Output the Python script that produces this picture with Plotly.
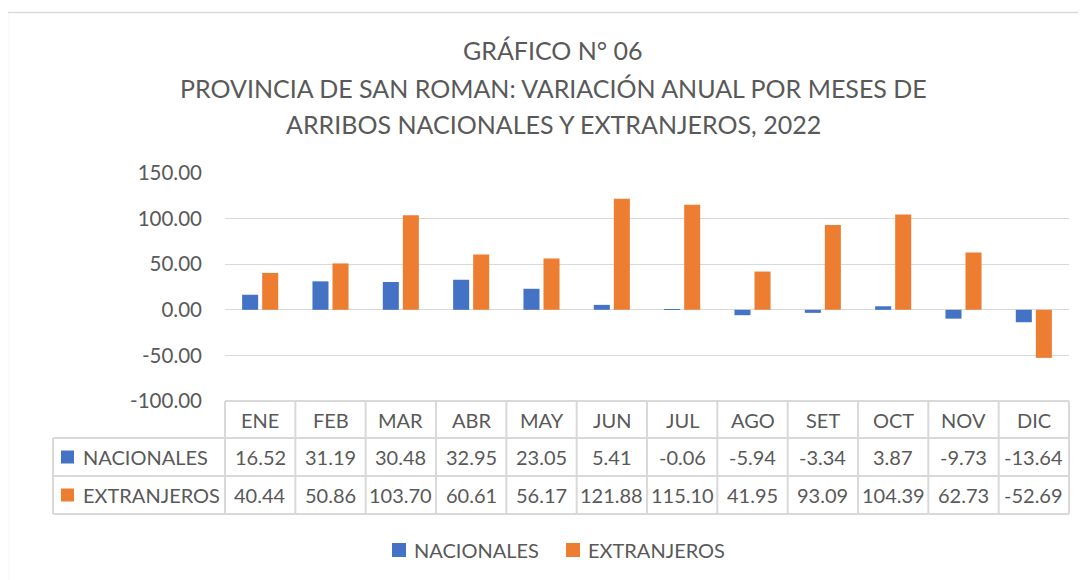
import plotly.graph_objects as go

meses = ["ENE", "FEB", "MAR", "ABR", "MAY", "JUN", "JUL", "AGO", "SET", "OCT", "NOV", "DIC"]
nacionales = [16.52, 31.19, 30.48, 32.95, 23.05, 5.41, -0.06, -5.94, -3.34, 3.87, -9.73, -13.64]
extranjeros = [40.44, 50.86, 103.70, 60.61, 56.17, 121.88, 115.10, 41.95, 93.09, 104.39, 62.73, -52.69]
series_names = ["NACIONALES", "EXTRANJEROS"]
series_colors = ["#4472C4", "#ED7D31"]
title_lines = [
    "GRÁFICO N° 06",
    "PROVINCIA DE SAN ROMAN: VARIACIÓN ANUAL POR MESES DE",
    "ARRIBOS NACIONALES Y EXTRANJEROS, 2022",
]
tick_vals = [-100, -50, 0, 50, 100, 150]

OFF = 8  # page body margin
W, H = 1086 - OFF, 580 - OFF
# plot area in page pixels
PL, PR, PT, PB = 225, 1069, 173, 401
FONT = "Lato"
TXT = "#595959"
GRID = "#D9D9D9"


def px(x):
    return (x - PL) / (PR - PL)


def py(y):
    return (PB - y) / (PB - PT)


fig = go.Figure()
for name, vals, col in zip(series_names, [nacionales, extranjeros], series_colors):
    fig.add_trace(go.Bar(x=meses, y=vals, name=name, marker=dict(color=col, line=dict(width=0)),
                         showlegend=False))

shapes = []
ann = []

# title
for t, ty in zip(title_lines, [50, 88, 124]):
    ann.append(dict(text=t, x=px(553), y=py(ty), xref="paper", yref="paper",
                    xanchor="center", yanchor="middle", showarrow=False,
                    font=dict(family=FONT, size=25, color=TXT)))

# chart border (extends beyond visible page)
shapes.append(dict(type="rect", xref="paper", yref="paper", x0=px(7.5), x1=px(1200), y0=py(12.5), y1=py(700),
                   line=dict(color=GRID, width=1.3), layer="below"))

# table geometry
n = len(meses)
cw = (PR - PL) / n
row_y = [401, 438, 476, 514]
LEFT = 53
tl = dict(color=GRID, width=2)
shapes.append(dict(type="line", xref="paper", yref="paper", x0=px(PL), x1=px(PR), y0=py(row_y[0]), y1=py(row_y[0]), line=tl))
for ry in row_y[1:]:
    shapes.append(dict(type="line", xref="paper", yref="paper", x0=px(LEFT), x1=px(PR), y0=py(ry), y1=py(ry), line=tl))
shapes.append(dict(type="line", xref="paper", yref="paper", x0=px(LEFT), x1=px(LEFT), y0=py(row_y[1]), y1=py(row_y[3]), line=tl))
for i in range(n + 1):
    xx = PL + i * cw
    shapes.append(dict(type="line", xref="paper", yref="paper", x0=px(xx), x1=px(xx), y0=py(row_y[0]), y1=py(row_y[3]), line=tl))

tfont = dict(family=FONT, size=20, color=TXT)
for i, m in enumerate(meses):
    cx = PL + (i + 0.5) * cw
    ann.append(dict(text=m, x=px(cx), y=py((row_y[0] + row_y[1]) / 2), xref="paper", yref="paper",
                    xanchor="center", yanchor="middle", showarrow=False, font=tfont))
    for r, vals in enumerate([nacionales, extranjeros]):
        ann.append(dict(text=f"{vals[i]:.2f}", x=px(cx), y=py((row_y[r + 1] + row_y[r + 2]) / 2),
                        xref="paper", yref="paper", xanchor="center", yanchor="middle", showarrow=False, font=tfont))

for r, (name, col) in enumerate(zip(series_names, series_colors)):
    cy = (row_y[r + 1] + row_y[r + 2]) / 2
    shapes.append(dict(type="rect", xref="paper", yref="paper", x0=px(61), x1=px(74), y0=py(cy - 6.5), y1=py(cy + 6.5),
                       fillcolor=col, line=dict(width=0)))
    ann.append(dict(text=name, x=px(81), y=py(cy), xref="paper", yref="paper", xanchor="left", yanchor="middle",
                    showarrow=False, font=tfont))

# legend (custom)
leg_sq = [392, 566]
for name, col, lx in zip(series_names, series_colors, leg_sq):
    shapes.append(dict(type="rect", xref="paper", yref="paper", x0=px(lx), x1=px(lx + 14), y0=py(543), y1=py(557),
                       fillcolor=col, line=dict(width=0)))
    ann.append(dict(text=name, x=px(lx + 20), y=py(550), xref="paper", yref="paper", xanchor="left", yanchor="middle",
                    showarrow=False, font=tfont))

fig.update_layout(
    width=W, height=H,
    margin=dict(l=PL - OFF, r=W - (PR - OFF), t=PT - OFF, b=H - (PB - OFF), pad=0),
    paper_bgcolor="white", plot_bgcolor="white",
    barmode="group", bargap=0.43, bargroupgap=0.2,
    shapes=shapes, annotations=ann,
    xaxis=dict(visible=False, range=[-0.5, n - 0.5]),
    yaxis=dict(range=[-100, 150], tickvals=tick_vals, ticktext=[f"{v:.2f}" for v in tick_vals],
               showgrid=True, gridcolor=GRID, gridwidth=1.3,
               zeroline=True, zerolinecolor=GRID, zerolinewidth=1.3, showline=False, ticks="",
               ticklabelstandoff=22, tickfont=dict(family=FONT, size=20.5, color=TXT)),
)

fig.write_html("out.html")
